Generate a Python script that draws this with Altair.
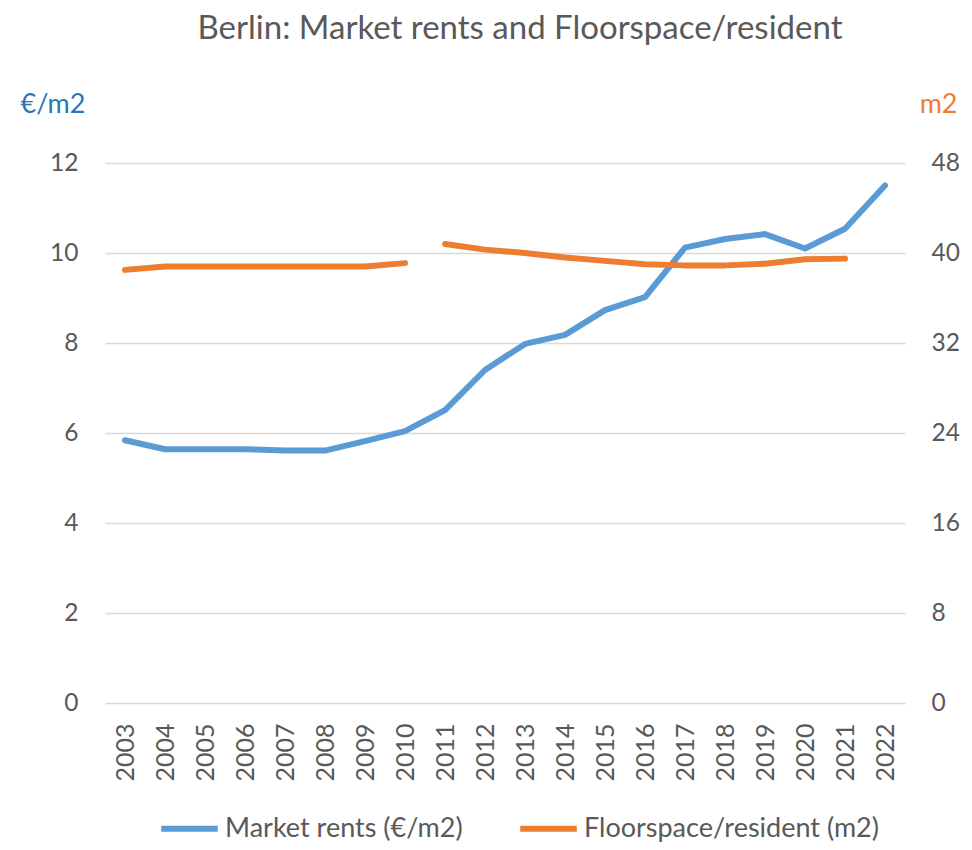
import altair as alt
import pandas as pd

years = [str(y) for y in range(2003, 2023)]
rents = [5.84, 5.64, 5.64, 5.64, 5.61, 5.61, 5.82, 6.04, 6.51, 7.40,
         7.98, 8.18, 8.73, 9.02, 10.12, 10.31, 10.42, 10.10, 10.54, 11.50]
floor_years = [str(y) for y in range(2003, 2022)]
floorspace = [38.5, 38.8, 38.8, 38.8, 38.8, 38.8, 38.8, 39.1,
              40.8, 40.3, 40.0, 39.6, 39.3, 39.0, 38.9, 38.9, 39.05, 39.45, 39.5]
floor_part = ["a"] * 8 + ["b"] * 11

S_RENT = "Market rents (€/m2)"
S_FLOOR = "Floorspace/resident (m2)"
BLUE = "#5B9BD5"
ORANGE = "#ED7D31"
GREY = "#595959"
FONT = "Lato, sans-serif"
LBL = 24.5

df_r = pd.DataFrame({"year": years, "value": rents, "series": S_RENT})
df_f = pd.DataFrame({"year": floor_years, "value": floorspace,
                     "series": S_FLOOR, "part": floor_part})

xenc = alt.X("year:O", title=None, sort=years,
             scale=alt.Scale(domain=years),
             axis=alt.Axis(labelAngle=270, labelAlign="right", labelBaseline="middle",
                           labelPadding=20, ticks=False, domain=False,
                           labelFontSize=25, labelColor=GREY, labelFont=FONT))

color = alt.Color("series:N",
                  scale=alt.Scale(domain=[S_RENT, S_FLOOR], range=[BLUE, ORANGE]),
                  legend=alt.Legend(title=None, orient="none", direction="horizontal",
                                    legendX=53, legendY=634,
                                    symbolType="stroke", symbolSize=3200,
                                    symbolStrokeWidth=6, labelFontSize=27,
                                    labelColor=GREY, labelFont=FONT, labelLimit=500,
                                    columnPadding=45, labelOffset=4))

rent_line = alt.Chart(df_r).mark_line(strokeWidth=6, strokeCap="round",
                                      strokeJoin="round").encode(
    x=xenc,
    y=alt.Y("value:Q", scale=alt.Scale(domain=[0, 12], nice=False),
            axis=alt.Axis(orient="left", values=[0, 2, 4, 6, 8, 10, 12],
                          title="€/m2", titleAngle=0, titleAlign="left",
                          titleBaseline="alphabetic", titleX=-85, titleY=-51,
                          titleColor="#2E75B6", titleFontSize=27,
                          titleFontWeight="normal", titleFont=FONT,
                          grid=True, gridColor="#D9D9D9", gridWidth=1.5,
                          domain=False, ticks=False, labelPadding=27,
                          labelFontSize=LBL, labelColor=GREY, labelFont=FONT)),
    color=color,
)

floor_line = alt.Chart(df_f).mark_line(strokeWidth=6, strokeCap="round",
                                       strokeJoin="round").encode(
    x=xenc,
    y=alt.Y("value:Q", scale=alt.Scale(domain=[0, 48], nice=False),
            axis=alt.Axis(orient="right", values=[0, 8, 16, 24, 32, 40, 48],
                          title="m2", titleAngle=0, titleAlign="right",
                          titleBaseline="alphabetic", titleX=52, titleY=-51,
                          titleColor=ORANGE, titleFontSize=27,
                          titleFontWeight="normal", titleFont=FONT,
                          grid=False, domain=False, ticks=False, labelPadding=26,
                          labelFontSize=LBL, labelColor=GREY, labelFont=FONT)),
    color=color,
    detail="part:N",
)

chart = alt.layer(rent_line, floor_line).resolve_scale(y="independent").properties(
    width=800, height=540,
    autosize=alt.AutoSizeParams(type="none"),
    padding={"left": 97, "top": 155, "right": 55, "bottom": 139},
    title=alt.TitleParams("Berlin: Market rents and Floorspace/resident",
                          fontSize=33, color=GREY, font=FONT, fontWeight="normal",
                          anchor="middle", frame="group", offset=44, dx=15),
).configure_view(stroke=None)

chart.save("out.html", embed_options={"renderer": "svg", "actions": False})
